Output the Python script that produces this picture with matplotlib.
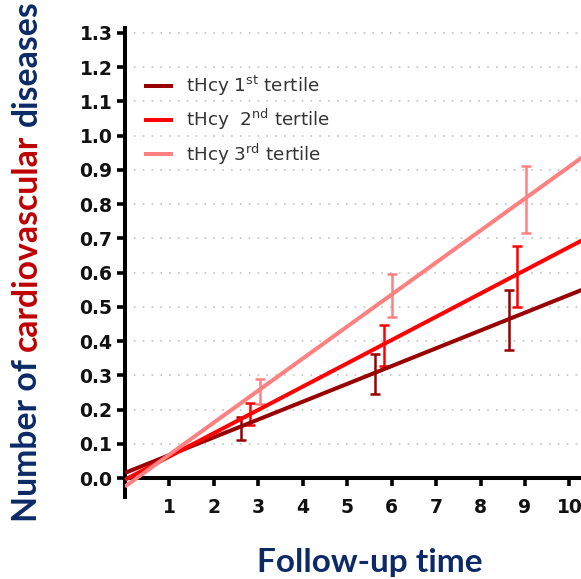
import matplotlib
matplotlib.use("Agg")
import matplotlib.pyplot as plt
import numpy as np
from matplotlib.ticker import FormatStrFormatter

# ---- data ----
series_labels = ["tHcy 1$^{\\mathrm{st}}$ tertile",
                 "tHcy  2$^{\\mathrm{nd}}$ tertile",
                 "tHcy 3$^{\\mathrm{rd}}$ tertile"]
colors = ["#990000", "#FF0000", "#FF8080"]

# error-bar positions (follow-up time), means and half-widths
t1_x = [2.62, 5.62, 8.64]
t1_mean = [0.145, 0.303, 0.461]
t1_err = [0.034, 0.058, 0.087]

t2_x = [2.82, 5.83, 8.83]
t2_mean = [0.187, 0.388, 0.589]
t2_err = [0.032, 0.060, 0.089]

t3_x = [3.03, 6.01, 9.03]
t3_mean = [0.252, 0.533, 0.813]
t3_err = [0.037, 0.064, 0.097]

# linear regression fits
fit_intercept = [0.015, -0.005, -0.025]
fit_slope = [0.052, 0.068, 0.0935]

x_ticks = [1, 2, 3, 4, 5, 6, 7, 8, 9, 10]
y_ticks = [0.0, 0.1, 0.2, 0.3, 0.4, 0.5, 0.6, 0.7, 0.8, 0.9, 1.0, 1.1, 1.2, 1.3]

W, H = 581, 579
fig = plt.figure(figsize=(W / 100, H / 100), dpi=100)
ax = fig.add_axes([125 / W, 82 / H, 1 - 125 / W, (551 - 82) / H])
ax.set_xlim(0, 10.26)
ax.set_ylim(-0.0555, 1.3146)

navy = "#0B2A66"
darkred = "#C00000"

# grid
ax.set_yticks(y_ticks)
ax.yaxis.grid(True, linestyle=(0, (1, 4.3)), linewidth=1.2, color="#c4c4c4")
ax.set_axisbelow(True)

xs = [t1_x, t2_x, t3_x]
ms = [t1_mean, t2_mean, t3_mean]
es = [t1_err, t2_err, t3_err]
for i in range(3):
    ax.errorbar(xs[i], ms[i], yerr=es[i], fmt="none", ecolor=colors[i],
                elinewidth=1.8, capsize=3.8, capthick=1.8, zorder=3)

xx = np.array([0.0, 10.3])
for i in range(3):
    ax.plot(xx, fit_intercept[i] + fit_slope[i] * xx, color=colors[i],
            linewidth=2.9, label=series_labels[i], zorder=4, solid_capstyle="butt")

# spines
for s in ["top", "right"]:
    ax.spines[s].set_visible(False)
ax.spines["left"].set_linewidth(2.9)
ax.spines["bottom"].set_linewidth(2.9)
ax.spines["bottom"].set_position(("data", 0))

ax.set_xticks(x_ticks)
ax.yaxis.set_major_formatter(FormatStrFormatter("%.1f"))
ax.tick_params(axis="y", direction="out", length=6, width=2.6, pad=3,
               labelsize=13.5)
ax.tick_params(axis="x", direction="out", length=5.5, width=2.6, pad=9,
               labelsize=13.5)
for lab in ax.get_xticklabels() + ax.get_yticklabels():
    lab.set_fontfamily("DejaVu Sans")
    lab.set_fontweight("bold")
    lab.set_color("#111111")

leg = ax.legend(loc="upper left", bbox_to_anchor=(144 / W, 1 - 74 / H),
                bbox_transform=fig.transFigure, frameon=False,
                prop={"family": "DejaVu Sans", "size": 13.2},
                handlelength=1.6, handletextpad=0.7, labelspacing=0.5,
                borderpad=0, borderaxespad=0)
for t in leg.get_texts():
    t.set_color("#333333")

# x label
fig.text(370 / W, 7 / H, "Follow-up time", ha="center", va="baseline",
         fontsize=24, fontweight="bold", family="Lato", color=navy)

# multi-coloured y label
fig.canvas.draw()
renderer = fig.canvas.get_renderer()
lab_kw = dict(fontsize=24.3, fontweight="bold", family="Lato")


def width_px(s):
    t = fig.text(0, 0, s, **lab_kw)
    w = t.get_window_extent(renderer).width
    t.remove()
    return w


pieces = [("Number of", navy, 0.0),
          ("cardiovascular", darkred, width_px("Number of c") - width_px("c")),
          ("diseases", navy, width_px("Number of cardiovascular d") - width_px("d"))]
x0, y0 = 37, 57
for s, c, off in pieces:
    fig.text(x0 / W, (y0 + off) / H, s, rotation=90, rotation_mode="anchor",
             ha="left", va="baseline", color=c, **lab_kw)

fig.savefig("out.png", dpi=100)
